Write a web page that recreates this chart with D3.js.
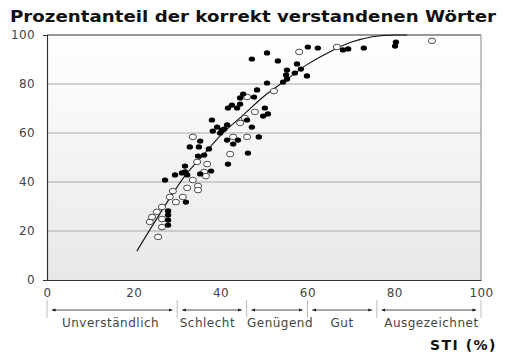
<!DOCTYPE html>
<html>
<head>
<meta charset="utf-8">
<script src="https://cdn.jsdelivr.net/npm/d3@7"></script>
<style>
  body { margin: 0; background: #fff; }
  svg { display: block; font-family: "DejaVu Sans", Verdana, sans-serif; }
</style>
</head>
<body>
<svg id="chart" width="508" height="360"></svg>
<script>
// ---- data ----
const yTicks = [0, 20, 40, 60, 80, 100];
const xTicks = [0, 20, 40, 60, 80, 100];

// filled dots: STI (%) / words understood (%)
const filledSTI = [27.2, 29.5, 31.1, 27.9, 27.9, 27.9, 27.9, 32.0, 31.8, 31.8, 32.3, 35.3, 37.8, 34.8, 36.2,
  32.9, 35.0, 37.3, 35.3, 38.2, 39.2, 38.0, 40.3, 39.9, 40.8, 41.5, 44.0, 46.1, 47.2, 48.8, 41.7, 46.3,
  41.5, 42.9, 41.7, 42.6, 43.8, 44.5, 44.5, 45.2, 47.7, 48.4, 50.7, 50.2, 49.8, 50.9, 47.2, 50.7, 53.2,
  55.3, 55.1, 54.4, 55.3, 57.6, 57.1, 58.5, 59.9, 60.1, 62.4, 68.2, 69.4, 73.0, 80.4, 80.2];
const filledScore = [40.8, 42.9, 43.7, 28.2, 26.5, 24.5, 22.4, 31.8, 46.5, 44.1, 42.9, 43.3, 44.5, 50.6, 51.0,
  54.3, 54.3, 53.5, 56.7, 60.8, 62.4, 65.3, 61.2, 60.0, 61.6, 63.3, 57.1, 65.3, 62.4, 58.4, 47.3, 51.8,
  57.1, 55.5, 70.2, 71.4, 70.2, 71.8, 74.3, 75.9, 74.7, 77.6, 80.4, 70.2, 66.9, 67.8, 90.2, 92.7, 89.4,
  85.7, 83.7, 80.8, 82.0, 88.2, 84.5, 86.1, 83.3, 95.1, 94.7, 93.9, 94.3, 94.7, 97.1, 95.5];

// open circles
const openSTI = [25.6, 23.7, 24.2, 25.3, 26.5, 26.5, 26.5, 28.3, 29.0, 29.7, 31.3, 32.3, 33.6, 34.8, 34.8,
  36.2, 36.6, 36.9, 34.6, 33.6, 42.2, 42.9, 44.5, 46.1, 45.6, 47.9, 46.1, 52.3, 58.1, 66.8, 88.7];
const openScore = [17.6, 23.7, 25.7, 27.8, 29.8, 24.9, 21.6, 33.9, 36.3, 31.8, 33.9, 37.6, 40.8, 38.4, 36.7,
  44.1, 42.4, 47.3, 48.2, 58.4, 51.4, 58.4, 64.1, 58.4, 66.1, 68.6, 74.7, 77.1, 93.1, 95.1, 97.6];

// fitted curve as drawn
const curveSTI   = [20.7, 26, 32, 36, 40, 45, 50, 55, 60, 65, 70, 75, 80, 83];
const curveScore = [11.8, 27, 43, 51, 59, 67, 75, 81.5, 88, 93, 97, 99.3, 100, 100];

// rating bands along the STI axis
const bandEdges  = [0, 30, 46, 60, 76, 100];
const bandLabels = ["Unverständlich", "Schlecht", "Genügend", "Gut", "Ausgezeichnet"];

const title  = "Prozentanteil der korrekt verstandenen Wörter";
const xTitle = "STI (%)";

// ---- layout ----
const svg = d3.select("#chart");
const x = d3.scaleLinear().domain([0, 100]).range([47, 481]);
const y = d3.scaleLinear().domain([0, 100]).range([280, 35]);
const labelNudge = [-1.5, -4.5, 3, 0, 2.5]; // band label shifts, px

// background gradient
const defs = svg.append("defs");
const grad = defs.append("linearGradient").attr("id", "bg")
  .attr("x1", 0).attr("y1", 0).attr("x2", 0).attr("y2", 1);
grad.append("stop").attr("offset", "0%").attr("stop-color", "#ffffff");
grad.append("stop").attr("offset", "100%").attr("stop-color", "#e8e8e8");

svg.append("rect")
  .attr("x", x(0)).attr("y", y(100))
  .attr("width", x(100) - x(0)).attr("height", y(0) - y(100))
  .attr("fill", "url(#bg)");

// grid
svg.append("g").selectAll("line")
  .data(yTicks.filter(d => d > 0 && d < 100))
  .join("line")
  .attr("x1", x(0)).attr("x2", x(100))
  .attr("y1", d => y(d)).attr("y2", d => y(d))
  .attr("stroke", "#a8a8a8").attr("stroke-width", 1);

// frame: top dark, right grey
svg.append("line").attr("x1", x(0)).attr("x2", x(100)).attr("y1", y(100)).attr("y2", y(100))
  .attr("stroke", "#333").attr("stroke-width", 1.2);
svg.append("line").attr("x1", x(100)).attr("x2", x(100)).attr("y1", y(100)).attr("y2", y(0))
  .attr("stroke", "#999").attr("stroke-width", 1.2);

// axes
const yAxis = svg.append("g").attr("transform", `translate(${x(0)},0)`)
  .call(d3.axisLeft(y).tickValues(yTicks).tickSize(4).tickPadding(8));
yAxis.select(".domain").attr("stroke", "#333").attr("stroke-width", 1.2);
yAxis.selectAll(".tick line").attr("stroke", "#333")
  .attr("opacity", d => (d === 0 || d === 100) ? 1 : 0);
yAxis.selectAll(".tick text").attr("fill", "#444")
  .style("font-size", "12px").style("letter-spacing", "0.4px").style("font-family", "DejaVu Sans");

const xAxis = svg.append("g").attr("transform", `translate(0,${y(0)})`)
  .call(d3.axisBottom(x).tickValues(xTicks).tickSize(0).tickPadding(8));
xAxis.select(".domain").attr("stroke", "#333").attr("stroke-width", 1.2);
xAxis.selectAll(".tick text").attr("fill", "#444")
  .style("font-size", "12px").style("letter-spacing", "0.4px").style("font-family", "DejaVu Sans");

// curve
const line = d3.line().x(d => x(d[0])).y(d => y(d[1])).curve(d3.curveMonotoneX);
svg.append("path")
  .datum(d3.zip(curveSTI, curveScore))
  .attr("d", line)
  .attr("fill", "none").attr("stroke", "#111").attr("stroke-width", 1.1);

// points
svg.append("g").selectAll("ellipse")
  .data(d3.zip(openSTI, openScore))
  .join("ellipse")
  .attr("cx", d => x(d[0])).attr("cy", d => y(d[1]))
  .attr("rx", 3.6).attr("ry", 2.8)
  .attr("fill", "#fff").attr("stroke", "#222").attr("stroke-width", 0.8);

svg.append("g").selectAll("ellipse")
  .data(d3.zip(filledSTI, filledScore))
  .join("ellipse")
  .attr("cx", d => x(d[0])).attr("cy", d => y(d[1]))
  .attr("rx", 3.2).attr("ry", 2.6)
  .attr("fill", "#000");

// rating bands
const bands = svg.append("g");
bands.selectAll("line.div")
  .data(bandEdges)
  .join("line").attr("class", "div")
  .attr("x1", d => x(d)).attr("x2", d => x(d))
  .attr("y1", 300).attr("y2", 318)
  .attr("stroke", "#bbb").attr("stroke-width", 1);

defs.append("marker").attr("id", "ah").attr("viewBox", "0 0 10 10")
  .attr("refX", 9).attr("refY", 5).attr("markerWidth", 5).attr("markerHeight", 5)
  .attr("orient", "auto-start-reverse")
  .append("path").attr("d", "M0,1 L10,5 L0,9 Z").attr("fill", "#222");

const segs = bandLabels.map((l, i) => ({ label: l, a: bandEdges[i], b: bandEdges[i + 1], i }));
bands.selectAll("line.arr")
  .data(segs)
  .join("line").attr("class", "arr")
  .attr("x1", d => x(d.a) + 5).attr("x2", d => x(d.b) - 5)
  .attr("y1", 310).attr("y2", 310)
  .attr("stroke", "#222").attr("stroke-width", 0.8)
  .attr("marker-start", "url(#ah)").attr("marker-end", "url(#ah)");

bands.selectAll("text")
  .data(segs)
  .join("text")
  .attr("x", d => (x(d.a) + x(d.b)) / 2 + labelNudge[d.i]).attr("y", 327)
  .attr("text-anchor", "middle")
  .attr("fill", "#444").style("font-size", "12px").style("letter-spacing", "0.5px")
  .text(d => d.label);

// titles
svg.append("text").attr("x", 10).attr("y", 22)
  .style("font-size", "15px").style("font-weight", "bold").attr("fill", "#111")
  .attr("textLength", 486).attr("lengthAdjust", "spacingAndGlyphs")
  .text(title);

svg.append("text").attr("x", 497).attr("y", 350).attr("text-anchor", "end")
  .style("font-size", "14px").style("font-weight", "bold").style("letter-spacing", "1.5px")
  .attr("fill", "#111")
  .text(xTitle);
</script>
</body>
</html>
